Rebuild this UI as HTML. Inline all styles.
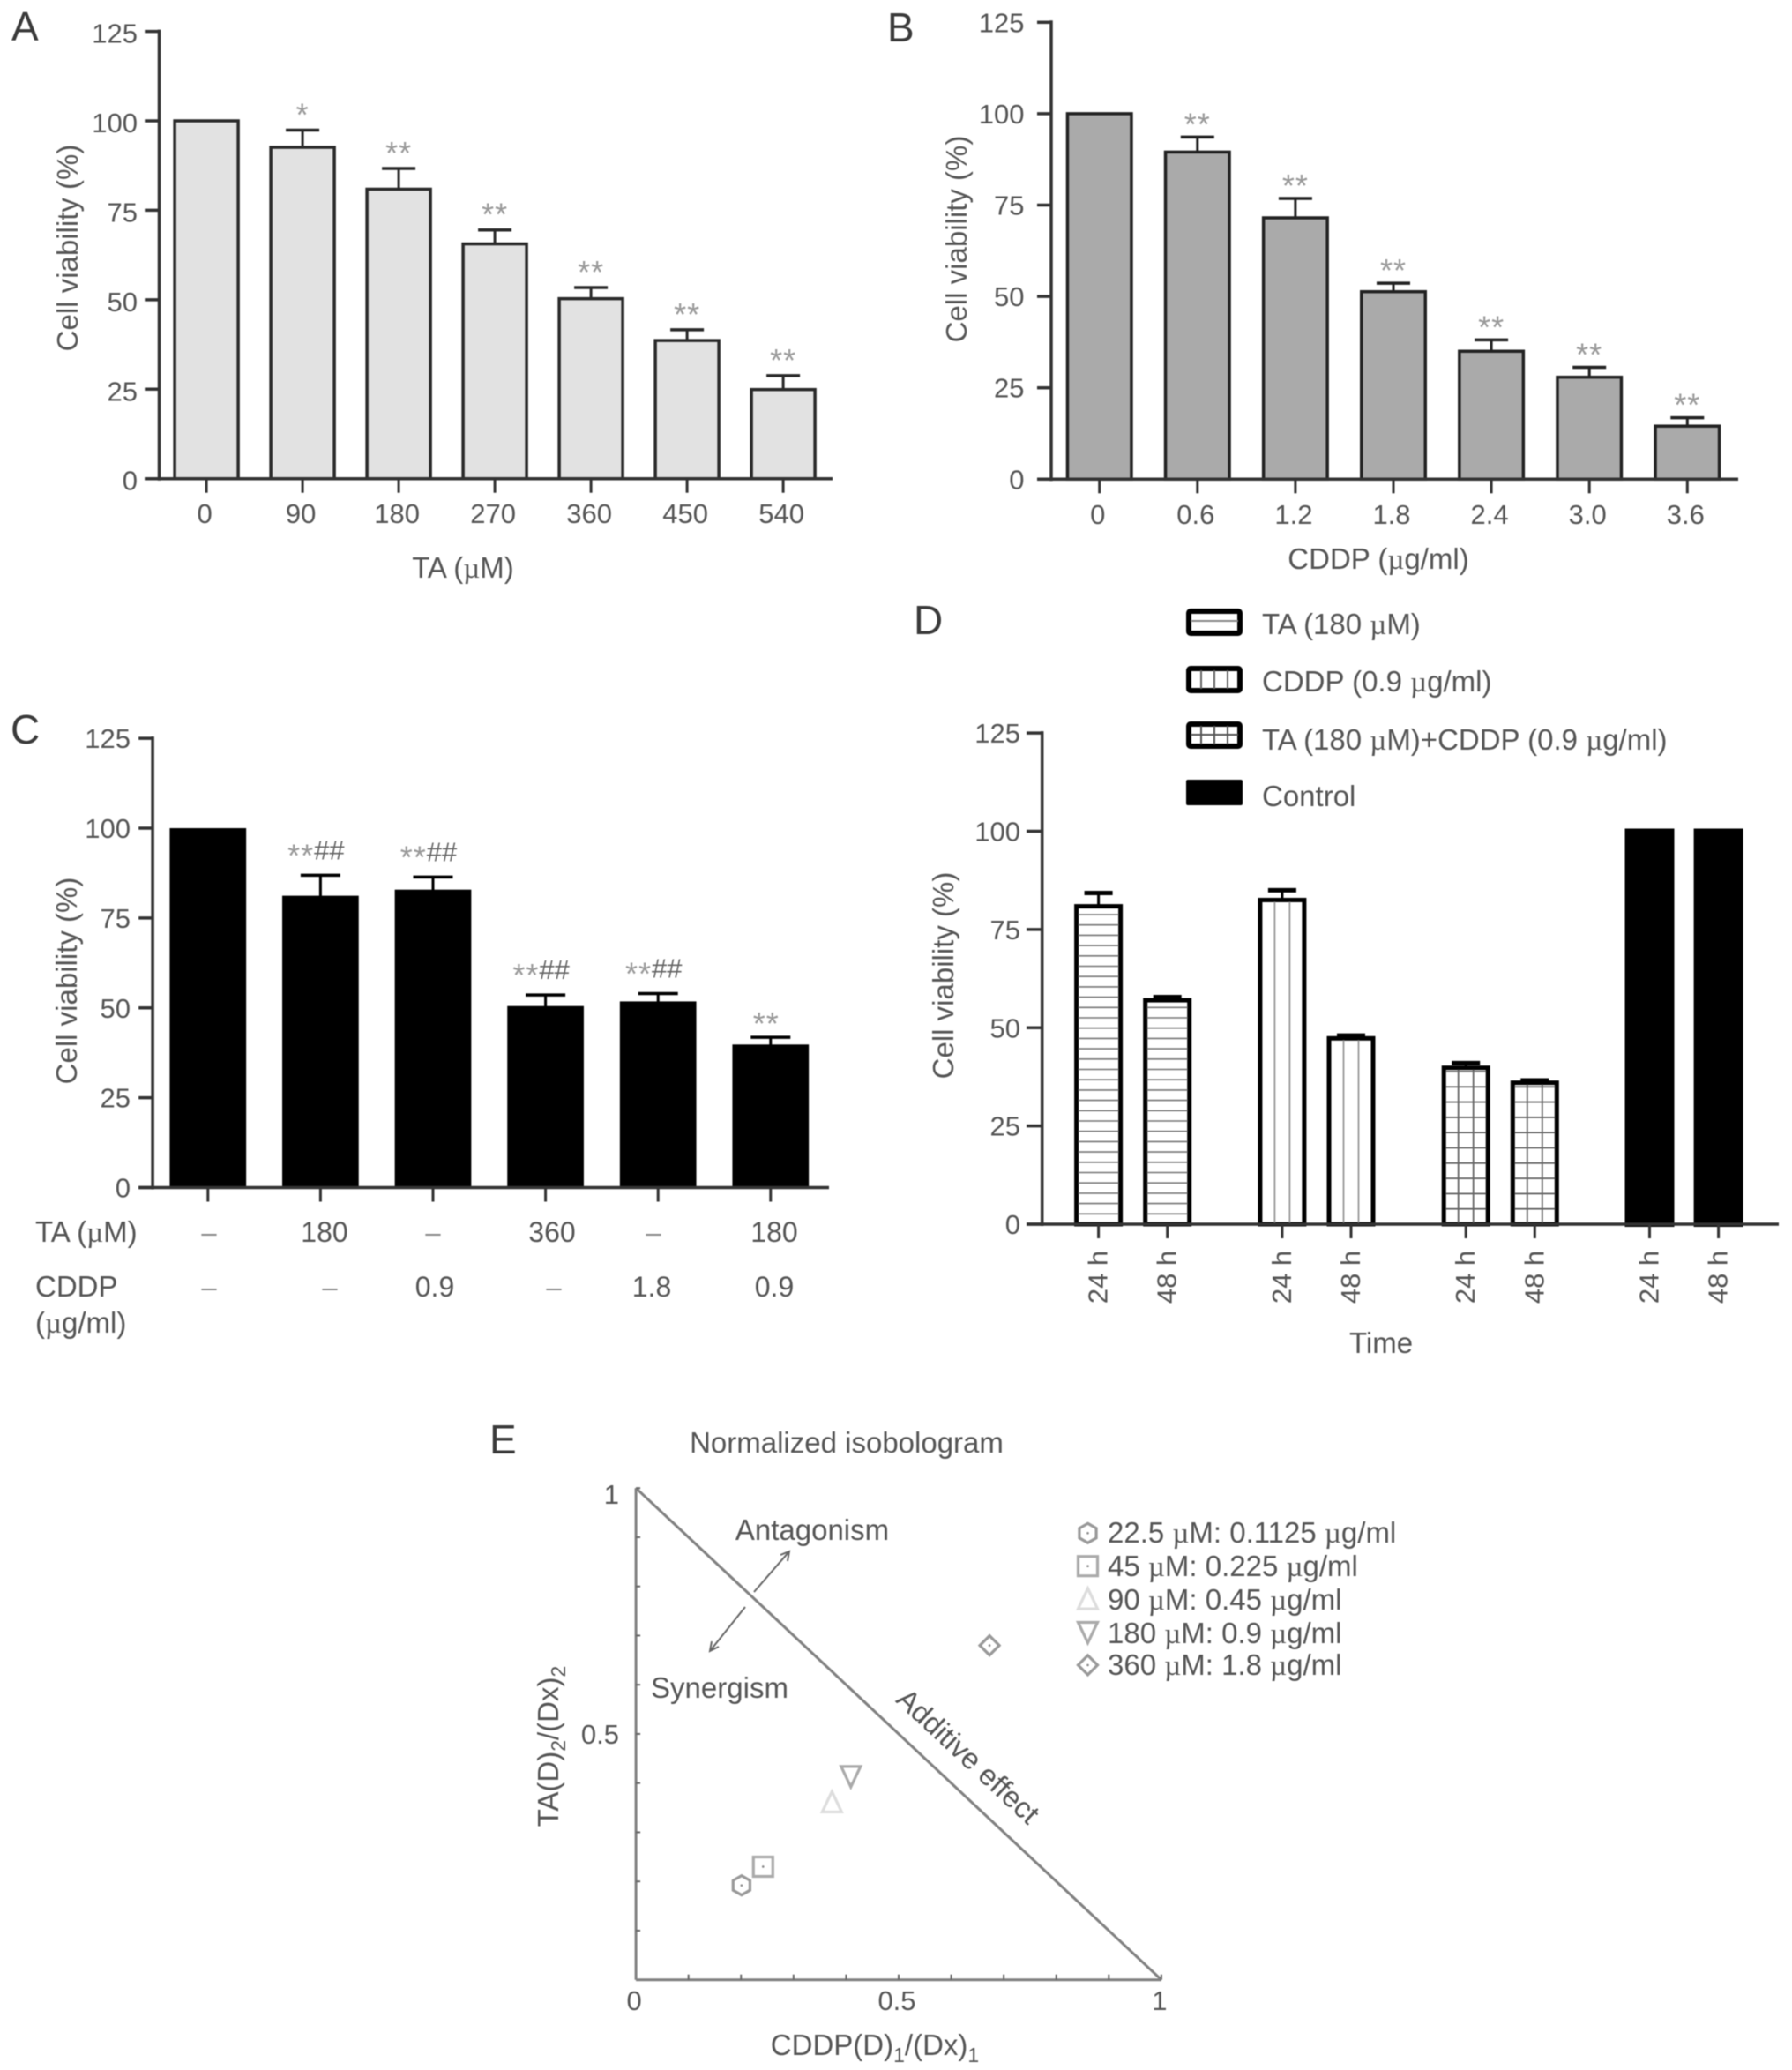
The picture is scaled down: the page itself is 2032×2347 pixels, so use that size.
<!DOCTYPE html>
<html lang="en">
<head>
<meta charset="utf-8">
<title>Cell viability panels</title>
<style>
html,body{margin:0;padding:0;background:#fff;}
svg{display:block;filter:blur(0.6px);}
text{font-family:"Liberation Sans",sans-serif;fill:#555;font-size:31px;}
.lbl{font-size:33px;}
.sub{font-size:23px;}
.mu{font-family:"Liberation Serif",serif;}
.panel{fill:#3a3a3a;font-size:46px;}
.dash{fill:#888;}
</style>
</head>
<body>
<svg id="fig" xmlns="http://www.w3.org/2000/svg" width="2032" height="2347" viewBox="0 0 2032 2347">
<rect x="0" y="0" width="2032" height="2347" fill="#fff"/>

<text class="panel" x="13" y="46">A</text>
<text class="panel" x="1006" y="47">B</text>
<text class="panel" x="12" y="843">C</text>
<text class="panel" x="1036" y="719">D</text>
<text class="panel" x="555" y="1648">E</text>

<text class="lbl" transform="translate(88,281) rotate(-90)" text-anchor="middle">Cell viability (%)</text>
<text class="lbl" x="525" y="655" text-anchor="middle">TA (<tspan class="mu">µ</tspan>M)</text>

<text class="lbl" transform="translate(1096,271) rotate(-90)" text-anchor="middle">Cell viability (%)</text>
<text class="lbl" x="1563" y="645" text-anchor="middle">CDDP (<tspan class="mu">µ</tspan>g/ml)</text>

<text class="lbl" transform="translate(87,1112) rotate(-90)" text-anchor="middle">Cell viability (%)</text>
<g>
<text class="lbl" x="40" y="1408">TA (<tspan class="mu">µ</tspan>M)</text>
<text class="lbl" x="40" y="1470">CDDP</text>
<text class="lbl" x="40" y="1511">(<tspan class="mu">µ</tspan>g/ml)</text>
<text class="dash" x="237" y="1408" text-anchor="middle">–</text>
<text x="368" y="1408" text-anchor="middle" style="font-size:32px">180</text>
<text class="dash" x="491" y="1408" text-anchor="middle">–</text>
<text x="626" y="1408" text-anchor="middle" style="font-size:32px">360</text>
<text class="dash" x="741" y="1408" text-anchor="middle">–</text>
<text x="878" y="1408" text-anchor="middle" style="font-size:32px">180</text>
<text class="dash" x="237" y="1470" text-anchor="middle">–</text>
<text class="dash" x="374" y="1470" text-anchor="middle">–</text>
<text x="493" y="1470" text-anchor="middle" style="font-size:32px">0.9</text>
<text class="dash" x="628" y="1470" text-anchor="middle">–</text>
<text x="739" y="1470" text-anchor="middle" style="font-size:32px">1.8</text>
<text x="878" y="1470" text-anchor="middle" style="font-size:32px">0.9</text>
</g>

<text class="lbl" transform="translate(1081,1106) rotate(-90)" text-anchor="middle">Cell viability (%)</text>
<text class="lbl" x="1566" y="1534" text-anchor="middle">Time</text>

<g>
 <g>
  <rect x="1348" y="693" width="58" height="25" rx="2" fill="#fff" stroke="#000" stroke-width="6"/>
  <line x1="1350" x2="1404" y1="704" y2="704" stroke="#888" stroke-width="2"/>
  <text class="lbl" x="1431" y="719">TA (180 <tspan class="mu">µ</tspan>M)</text>
 </g>
 <g>
  <rect x="1348" y="758" width="58" height="25" rx="2" fill="#fff" stroke="#000" stroke-width="6"/>
  <path d="M1362 760V781M1377 760V781M1392 760V781" stroke="#666" stroke-width="2" fill="none"/>
  <text class="lbl" x="1431" y="784">CDDP (0.9 <tspan class="mu">µ</tspan>g/ml)</text>
 </g>
 <g>
  <rect x="1348" y="821" width="58" height="25" rx="2" fill="#fff" stroke="#000" stroke-width="6"/>
  <path d="M1362 823V844M1377 823V844M1392 823V844M1350 833H1404" stroke="#555" stroke-width="2" fill="none"/>
  <text class="lbl" x="1431" y="850">TA (180 <tspan class="mu">µ</tspan>M)+CDDP (0.9 <tspan class="mu">µ</tspan>g/ml)</text>
 </g>
 <g>
  <rect x="1345" y="884" width="64" height="29" rx="2" fill="#000"/>
  <text class="lbl" x="1431" y="914">Control</text>
 </g>
</g>

<text class="lbl" x="960" y="1647" text-anchor="middle">Normalized isobologram</text>
<text class="lbl" x="921" y="1746" text-anchor="middle">Antagonism</text>
<text class="lbl" x="816" y="1925" text-anchor="middle">Synergism</text>
<text class="lbl" transform="translate(1097,1992) rotate(43)" text-anchor="middle" dy="10">Additive effect</text>
<text class="lbl" transform="translate(633,1980) rotate(-90)" text-anchor="middle">TA(D)<tspan class="sub" dy="8">2</tspan><tspan dy="-8">/(Dx)</tspan><tspan class="sub" dy="8">2</tspan></text>
<text class="lbl" x="992" y="2330" text-anchor="middle">CDDP(D)<tspan class="sub" dy="8">1</tspan><tspan dy="-8">/(Dx)</tspan><tspan class="sub" dy="8">1</tspan></text>
<g stroke="#666" stroke-width="2" fill="none">
 <path d="M855 1805L895 1759M885 1763L895 1759L893 1770"/>
 <path d="M845 1822L805 1872M807 1861L805 1872L815 1867"/>
</g>
<g>
 <text class="lbl" x="1256" y="1749">22.5 <tspan class="mu">µ</tspan>M: 0.1125 <tspan class="mu">µ</tspan>g/ml</text>
 <text class="lbl" x="1256" y="1787">45 <tspan class="mu">µ</tspan>M: 0.225 <tspan class="mu">µ</tspan>g/ml</text>
 <text class="lbl" x="1256" y="1825">90 <tspan class="mu">µ</tspan>M: 0.45 <tspan class="mu">µ</tspan>g/ml</text>
 <text class="lbl" x="1256" y="1863">180 <tspan class="mu">µ</tspan>M: 0.9 <tspan class="mu">µ</tspan>g/ml</text>
 <text class="lbl" x="1256" y="1899">360 <tspan class="mu">µ</tspan>M: 1.8 <tspan class="mu">µ</tspan>g/ml</text>
</g>
</svg>

<script>
// ---- Panel A data ----
const aCategories = ['0','90','180','270','360','450','540'];
const aValues = [100,92.6,80.9,65.6,50.3,38.6,24.9];
const aErrors = [100,97.4,86.7,69.5,53.4,41.6,28.8];
const aSignificance = ['','*','**','**','**','**','**'];
// ---- Panel B data ----
const bCategories = ['0','0.6','1.2','1.8','2.4','3.0','3.6'];
const bValues = [100,89.5,71.5,51.3,35,27.9,14.5];
const bErrors = [100,93.6,76.8,53.6,38.1,30.6,16.8];
const bSignificance = ['','**','**','**','**','**','**'];
// ---- Panel C data ----
const cValues = [100,81.2,82.9,50.5,51.8,39.8];
const cErrors = [100,86.9,86.4,53.6,54,41.8];
const cSignificance = ['','**##','**##','**##','**##','**'];
// ---- Panel D data ----
const dCategories = ['24 h','48 h','24 h','48 h','24 h','48 h','24 h','48 h'];
const dValues = [80.9,57,82.5,47.3,39.8,36,100,100];
const dErrors = [84.3,57.8,85,48,41,36.6,100,100];
const dSeries = ['ta','ta','cddp','cddp','combo','combo','control','control'];
// ---- Shared axis ticks ----
const viabilityTicks = [0,25,50,75,100,125];
// ---- Panel E data ----
const eSeries = ['hexagon','square','triangle','inverted','diamond'];
const eCddpFraction = [0.201,0.242,0.373,0.409,0.673];
const eTaFraction = [0.192,0.23,0.361,0.414,0.68];
const eMinorTicks = [0.1,0.2,0.3,0.4,0.6,0.7,0.8,0.9];
const eMajorTicks = [0,0.5,1];

const svg = document.getElementById('fig');
const NS = 'http://www.w3.org/2000/svg';
function mk(tag, attrs, parent){
  const el = document.createElementNS(NS, tag);
  for (const k in attrs) el.setAttribute(k, attrs[k]);
  (parent || svg).appendChild(el);
  return el;
}

function drawAxes(p, g){
  const yAx = mk('line',{x1:p.axisX,x2:p.axisX,y1:p.yAt(125)-2,y2:p.yAt(0)+2,stroke:'#333','stroke-width':3.5},g);
  
  
  const xAx = mk('line',{x1:p.tickStart,x2:p.axisEnd,y1:p.yAt(0),y2:p.yAt(0),stroke:'#333','stroke-width':3.5},g);
  
  
  viabilityTicks.forEach(function(v){
    const t = mk('line',{x1:p.tickStart,x2:p.axisX,y1:p.yAt(v),y2:p.yAt(v),stroke:'#333','stroke-width':3.5},g);
    
    
    const l = mk('text',{x:p.labelRight,y:p.yAt(v)+p.labelDrop,'text-anchor':'end'},g);
    l.textContent = String(v);
    
    
  });
}

function drawError(p, g, cx, err, capW, sw){
  const stem = mk('line',{x1:cx,x2:cx,y1:p.yAt(err),y2:p.yAt(0),stroke:p.stroke,'stroke-width':3},g);
  
  
  const cap = mk('line',{x1:cx-capW/2,x2:cx+capW/2,y1:p.yAt(err),y2:p.yAt(err),stroke:p.stroke,'stroke-width':sw},g);
  
  
}

function drawSig(p, g, cx, cy, s){
  const stars = s.replace(/#/g,'');
  const hashes = s.replace(/\*/g,'');
  const solo = hashes ? 0 : (p.soloDrop || 0);
  const t = mk('text',{x:cx,y:cy+10+solo,'text-anchor':'middle'},g);
  const a = mk('tspan',{dy:8,style:'font-size:36px;fill:#999;letter-spacing:1px'},t);
  a.textContent = stars;
  
  
  if (hashes){
    const b = mk('tspan',{dy:-8,style:'font-size:31px;fill:#666'},t);
    b.textContent = hashes;
    
    
  }
  
  
}

function drawBarPanel(p, values, errors, cats, sig, sigAbove){
  const g = mk('g',{});
  
  
  values.forEach(function(v, i){
    const cx = p.xAt(i);
    if (errors[i] > v) drawError(p, g, cx, errors[i], p.capW, 3.5);
    const r = mk('rect',{x:cx-p.barW/2,y:p.yAt(v),width:p.barW,height:p.yAt(0)-p.yAt(v),fill:p.fill,stroke:p.stroke,'stroke-width':p.barStroke},g);
    
    
    const tk = mk('line',{x1:cx,x2:cx,y1:p.yAt(0),y2:p.yAt(0)+16,stroke:'#333','stroke-width':3},g);
    
    
    if (cats){
      const l = mk('text',{x:cx-2,y:p.labelY,'text-anchor':'middle'},g);
      l.textContent = cats[i];
      
      
    }
    if (sig[i]) drawSig(p, g, p.sigX ? p.sigX(i) : cx, p.yAt(errors[i]) - sigAbove, sig[i]);
  });
  drawAxes(p, g);
}

drawBarPanel({id:'a',
  xAt:function(i){return 234.1+i*109;}, yAt:function(v){return 542.7-v*4.057;},
  axisX:180.5,tickStart:164.2,axisEnd:944,labelRight:156,labelDrop:13,labelY:593,barW:72,capW:38,fill:'#e2e2e2',stroke:'#2a2a2a',barStroke:3.5
}, aValues, aErrors, aCategories, aSignificance, 23);

drawBarPanel({id:'b',
  xAt:function(i){return 1246.7+i*111.1;}, yAt:function(v){return 543.3-v*4.144;},
  axisX:1192,tickStart:1176,axisEnd:1971,labelRight:1161.5,labelDrop:11,labelY:594,barW:72.5,capW:38,fill:'#aaaaaa',stroke:'#222',barStroke:3.5
}, bValues, bErrors, bCategories, bSignificance, 20);

drawBarPanel({id:'c',
  xAt:function(i){return 235.8+i*127.6;}, yAt:function(v){return 1346.5-v*4.075;},
  sigX:function(i){return 235.8+i*127.6-5;},soloDrop:7,
  axisX:173.1,tickStart:157.2,axisEnd:940,labelRight:148,labelDrop:11,labelY:0,barW:86.7,capW:45,fill:'#000',stroke:'#000',barStroke:0
}, cValues, cErrors, null, cSignificance, 28);

// Panel D is grouped, with patterned bars
(function(){
  const p = {id:'d',
    xAt:function(i){return 1245.6+Math.floor(i/2)*208.3+(i%2)*78.1;},
    yAt:function(v){return 1388-v*4.455;},
    axisX:1181.7,tickStart:1164,axisEnd:2017,labelRight:1157,labelDrop:11,stroke:'#000'};
  const g = mk('g',{});
  
  
  const HW = 25;
  dValues.forEach(function(v, i){
    const cx = p.xAt(i);
    const s = dSeries[i];
    const top = p.yAt(v), base = p.yAt(0);
    if (dErrors[i] > v) drawError(p, g, cx, dErrors[i], 32, 5);
    const r = mk('rect',{x:cx-HW,y:top,width:HW*2,height:base-top,fill:s==='control'?'#000':'#fff',stroke:'#000','stroke-width':s==='control'?6:5},g);
    
    
    if (s==='ta' || s==='combo'){
      const gap = s==='ta' ? 11.7 : 17.3;
      for (let y = base-gap; y > top+4; y -= gap){
        const h = mk('line',{x1:cx-HW+2,x2:cx+HW-2,y1:y,y2:y,stroke:s==='ta'?'#777':'#555','stroke-width':1.6},g);
        
        
      }
    }
    if (s==='cddp' || s==='combo'){
      [-8.5,8.5].forEach(function(dx){
        const vl = mk('line',{x1:cx+dx,x2:cx+dx,y1:top+2,y2:base,stroke:s==='cddp'?'#999':'#666','stroke-width':1.8},g);
        
        
      });
    }
    const tk = mk('line',{x1:cx,x2:cx,y1:base,y2:base+16,stroke:'#333','stroke-width':3},g);
    
    
    const l = mk('text',{transform:'translate('+(cx+10)+',1448) rotate(-90)','text-anchor':'middle'},g);
    l.textContent = dCategories[i];
    
    
  });
  drawAxes(p, g);
})();

// Panel E isobologram
(function(){
  const sx = function(v){return 721.1+v*595.8;};
  const sy = function(v){return 2244.7-v*557.5;};
  const g = mk('g',{});
  
  
  const LC = '#808080';
  const ya = mk('line',{x1:sx(0),x2:sx(0),y1:sy(1),y2:sy(0),stroke:LC,'stroke-width':3},g);
  
  
  const xa = mk('line',{x1:sx(0),x2:sx(1),y1:sy(0),y2:sy(0),stroke:LC,'stroke-width':3},g);
  
  
  const add = mk('line',{x1:sx(0),y1:sy(1),x2:sx(1),y2:sy(0),stroke:LC,'stroke-width':3},g);
  
  
  eMinorTicks.concat([0.5,1]).forEach(function(v){
    const a = mk('line',{x1:sx(v),x2:sx(v),y1:sy(0),y2:sy(0)-6,stroke:'#666','stroke-width':2},g);
    
    
    const b = mk('line',{x1:sx(0),x2:sx(0)+5,y1:sy(v),y2:sy(v),stroke:'#666','stroke-width':2},g);
    
    
  });
  eMajorTicks.forEach(function(v){
    const a = mk('text',{x:sx(v)-2,y:2279,'text-anchor':'middle'},g);
    a.textContent = String(v);
    
    
    if (v > 0){
      const b = mk('text',{x:702,y:sy(v)+(v===1?18:11),'text-anchor':'end'},g);
      b.textContent = String(v);
      
      
    }
  });
  function marker(shape, cx, cy, name){
    const r = 11;
    let d = [];
    let col = '#999';
    if (shape==='hexagon') d = [[0,-r],[r*.87,-r/2],[r*.87,r/2],[0,r],[-r*.87,r/2],[-r*.87,-r/2]];
    if (shape==='square'){ d = [[-r,-r],[r,-r],[r,r],[-r,r]]; col = '#aaa'; }
    if (shape==='triangle'){ d = [[0,-r*1.1],[r,r],[-r,r]]; col = '#ddd'; }
    if (shape==='inverted'){ d = [[-r,-r],[r,-r],[0,r*1.1]]; col = '#aaa'; }
    if (shape==='diamond') d = [[0,-r],[r,0],[0,r],[-r,0]];
    const pts = d.map(function(q){return (cx+q[0])+','+(cy+q[1]);}).join(' ');
    const m = mk('polygon',{points:pts,fill:'none',stroke:col,'stroke-width':3.2},g);
    
    
    if (shape==='hexagon' || shape==='square' || shape==='diamond'){
      const dot = mk('circle',{cx:cx,cy:cy,r:1.3,fill:'#888'},g);
      
      
    }
  }
  eSeries.forEach(function(shape, i){
    marker(shape, sx(eCddpFraction[i]), sy(eTaFraction[i]), 'e-point-' + shape);
    marker(shape, 1233.5, 1738.3+i*37.4, 'e-legend-marker-' + shape);
  });
})();
</script>
</body>
</html>
